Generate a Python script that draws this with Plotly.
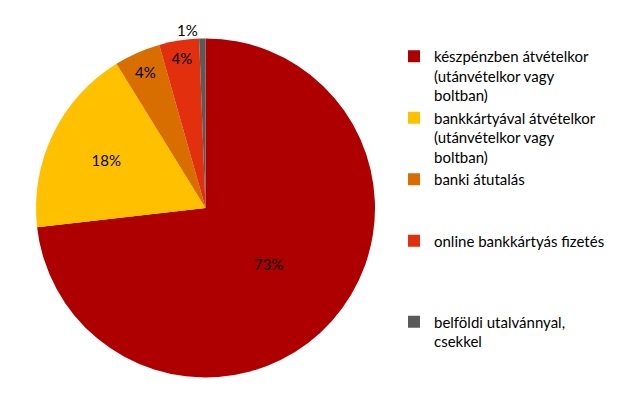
import plotly.graph_objects as go

labels = [
    "készpénzben átvételkor<br>(utánvételkor vagy<br>boltban)",
    "bankkártyával átvételkor<br>(utánvételkor vagy<br>boltban)",
    "banki átutalás<br> <br> ",
    "online bankkártyás fizetés<br> <br> <br> ",
    "belföldi utalvánnyal,<br>csekkel",
]
values = [73.2, 18.0, 4.4, 3.8, 0.6]
colors = ["#AE0000", "#FFC000", "#D86E00", "#E2300F", "#5A5A5A"]
text_positions = ["inside", "inside", "inside", "inside", "outside"]

# the page body has an 8px margin; figure is sized to fit the 620x417 window
W, H, OFF = 612, 409, 8

fig = go.Figure(
    go.Pie(
        labels=labels,
        values=values,
        marker=dict(colors=colors, line=dict(width=0)),
        sort=False,
        direction="clockwise",
        rotation=0,
        texttemplate="%{percent:.0%}",
        textposition=text_positions,
        insidetextorientation="horizontal",
        textfont=dict(family="Lato", size=15, color="#000000"),
        domain=dict(
            x=[(36 - OFF) / W, (375 - OFF) / W],
            y=[(H - (378 - OFF)) / H, (H - (38 - OFF)) / H],
        ),
        hoverinfo="label+percent",
    )
)

fig.update_layout(
    width=W,
    height=H,
    margin=dict(l=0, r=0, t=0, b=0),
    paper_bgcolor="white",
    plot_bgcolor="white",
    font=dict(family="Lato", size=15, color="#000000"),
    showlegend=True,
    legend=dict(
        x=(394 - OFF) / W,
        y=(H - 32) / H,
        xanchor="left",
        yanchor="top",
        valign="top",
        font=dict(family="Lato", size=15, color="#000000"),
        bgcolor="rgba(0,0,0,0)",
        traceorder="normal",
    ),
)

fig.write_html("out.html")
